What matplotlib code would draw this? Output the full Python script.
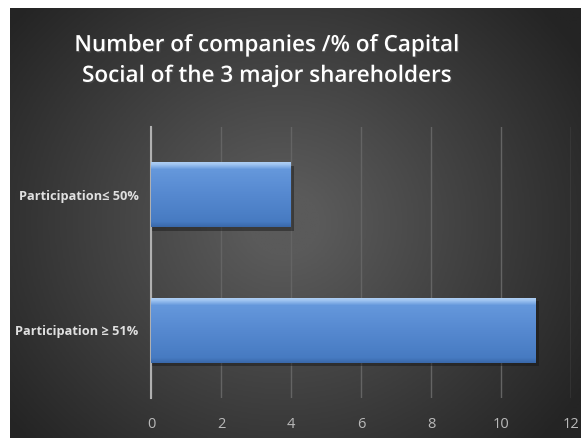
import numpy as np
import matplotlib
matplotlib.use('Agg')
import matplotlib.pyplot as plt
import matplotlib.patheffects as pe
from matplotlib.colors import LinearSegmentedColormap

categories = ['Participation ≥ 51%', 'Participation≤ 50%']
companies = [11, 4]
x_ticks = [0, 2, 4, 6, 8, 10, 12]
title = 'Number of companies /% of Capital\nSocial of the 3 major shareholders'

fonts = ['Open Sans', 'DejaVu Sans']

fig = plt.figure(figsize=(5.81, 4.38), dpi=100)
fig.patch.set_facecolor('white')

# dark radial background panel
bg = fig.add_axes([10 / 581, 0, 1 - 10 / 581, 1 - 8 / 438])
bg.set_axis_off()
yy, xx = np.mgrid[0:1:300j, 0:1:400j]
r = np.sqrt(((xx - 0.48) / 0.62) ** 2 + ((yy - 0.5) / 0.75) ** 2)
shade = np.clip(1 - r, 0, 1)
bg_cmap = LinearSegmentedColormap.from_list('bg', ['#242424', '#5a5a5a'])
bg.imshow(shade, cmap=bg_cmap, aspect='auto', extent=[0, 1, 0, 1], vmin=0, vmax=0.9)
bg.set_xlim(0, 1)
bg.set_ylim(0, 1)

ax = fig.add_axes([151 / 581, 1 - 398 / 438, 420 / 581, 271 / 438])
ax.patch.set_alpha(0)
y = np.arange(len(categories))
bars = ax.barh(y, companies, height=0.48, color='#5589cf', zorder=3)

# vertical gradient inside each bar, plus a soft drop shadow
bar_cmap = LinearSegmentedColormap.from_list(
    'bar', [(0, '#3a69ab'), (0.08, '#477bc2'), (0.5, '#5689d0'),
            (0.88, '#6598dc'), (0.95, '#9cc2f0'), (1, '#b5d3f5')])
grad = np.linspace(0, 1, 100).reshape(-1, 1)
for b in bars:
    x0, y0, w, h = b.get_x(), b.get_y(), b.get_width(), b.get_height()
    ax.barh(b.get_y() + h / 2 - 0.025, w + 0.08, height=h, left=x0,
            color='#151515', alpha=0.45, zorder=2)
    im = ax.imshow(grad, cmap=bar_cmap, aspect='auto', origin='lower',
                   extent=[x0, x0 + w, y0, y0 + h], zorder=4)
    im.set_clip_path(b)

ax.set_xlim(0, 12)
ax.set_ylim(-0.5, 1.5)
ax.set_xticks(x_ticks)
ax.set_xticklabels([str(t) for t in x_ticks])
ax.set_yticks(y)
ax.set_yticklabels(categories)
ax.grid(axis='x', color='#646464', linewidth=1, zorder=0)
ax.tick_params(axis='x', length=0, pad=14, labelsize=10.5, labelcolor='#b9b9b9')
ax.tick_params(axis='y', length=0, pad=9, labelsize=9.2, labelcolor='#e0e0e0')
for lab in ax.get_xticklabels():
    lab.set_family(fonts)
for lab in ax.get_yticklabels():
    lab.set_family(fonts)
    lab.set_fontweight('bold')
for side in ['top', 'right', 'bottom']:
    ax.spines[side].set_visible(False)
ax.spines['left'].set_color('#b0b0b0')
ax.spines['left'].set_linewidth(1.5)

fig.text(267 / 581, 1 - 61 / 438, title, ha='center', va='center',
         color='white', fontsize=16.2, fontweight='semibold', family=fonts,
         linespacing=1.6,
         path_effects=[pe.withSimplePatchShadow(offset=(1, -1), alpha=0.6)])

fig.savefig('out.png', dpi=100, facecolor=fig.get_facecolor())
